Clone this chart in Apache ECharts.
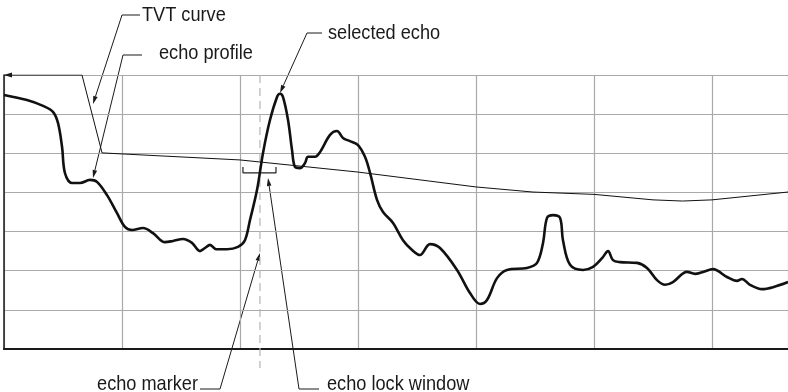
<!DOCTYPE html>
<html><head><meta charset="utf-8">
<script src="https://cdn.jsdelivr.net/npm/echarts@6/dist/echarts.min.js"></script>
<style>html,body{margin:0;padding:0;background:#fff}#c{width:788px;height:392px}</style>
</head><body><div id="c"></div>
<script>
// Echo profile (distance, level)
const echoX = [0, 1.95, 3.31, 4.15, 4.58, 4.92, 5.17, 5.76, 6.44, 7.29, 7.88, 8.73, 9.58, 10.25, 10.85, 11.78, 12.63, 13.64, 14.32, 15.17, 15.93, 16.61, 17.03, 17.46, 17.97, 18.90, 19.83, 20.42, 20.85, 21.44, 21.95, 22.54, 23.14, 23.39, 23.64, 24.07, 24.41, 24.66, 25.08, 25.51, 25.76, 26.36, 26.78, 27.63, 28.22, 28.73, 29.32, 30.0, 30.59, 31.02, 31.61, 32.12, 32.97, 33.81, 34.58, 35.25, 36.10, 36.95, 38.39, 39.49, 40.34, 40.93, 41.78, 42.63, 44.32, 45.17, 45.68, 46.02, 46.53, 47.12, 47.37, 47.97, 49.07, 49.92, 50.68, 51.19, 51.61, 52.20, 53.64, 54.49, 55.34, 56.02, 56.69, 57.88, 58.56, 59.24, 60.08, 61.27, 62.12, 62.54, 63.22, 64.24, 65.17, 66.44];
const echoY = [64.9, 63.6, 62.1, 60.6, 57.7, 51.6, 44.9, 42.4, 42.4, 43.2, 42.7, 39.3, 34.7, 31.2, 30.4, 30.9, 29.6, 27.3, 27.6, 28.1, 27.1, 25.0, 25.8, 26.6, 25.5, 25.5, 26.1, 27.8, 33.0, 40.6, 50.1, 58.5, 64.4, 65.2, 64.4, 58.5, 50.8, 46.5, 46.2, 47.5, 49.1, 49.1, 50.3, 54.7, 55.7, 53.9, 53.1, 52.1, 49.1, 45.0, 38.1, 35.0, 32.2, 27.8, 25.3, 24.0, 26.8, 25.8, 20.2, 14.3, 11.5, 12.5, 18.1, 20.2, 20.7, 22.0, 27.1, 33.5, 34.2, 33.5, 27.8, 21.5, 20.2, 21.0, 23.2, 25.0, 22.7, 22.2, 22.0, 20.7, 17.6, 16.4, 17.1, 19.7, 19.2, 19.7, 20.4, 18.4, 17.4, 17.9, 16.4, 15.3, 15.8, 17.1];
// TVT curve
const tvtX = [0, 6.61, 8.31, 20.0, 30.0, 40.0, 44.83, 50.0, 55.0, 57.5, 60.0, 66.44];
const tvtY = [70, 70, 50.1, 48.3, 45.2, 41.4, 40.1, 39.5, 38.1, 37.8, 38.1, 40.1];
// echo marker position and echo lock window
const markerX = 21.69;
const markerY = [70, -4.85];
const lockX = [20.25, 20.25, 23.05, 23.05];
const lockY = [46.5, 45.0, 45.0, 46.5];
// axis layout values
const xMax = 66.44, yMax = 70, tickStep = 10;
// labels
const labels = ['TVT curve', 'echo profile', 'selected echo', 'echo marker', 'echo lock window'];

const zip = (a, b) => a.map((v, i) => [v, b[i]]);
const FONT = '21px "Liberation Sans", Arial, sans-serif';
const INK = '#1a1a1a';

function leader(hx1, hx2, hy, tx, ty) {
  const dx = tx - hx1, dy = ty - hy, L = Math.hypot(dx, dy);
  const ux = dx / L, uy = dy / L, al = 8, aw = 2.3;
  const bx = tx - ux * al, by = ty - uy * al;
  return [
    { type: 'line', shape: { x1: hx1, y1: hy, x2: hx2, y2: hy }, style: { stroke: INK, lineWidth: 1 }, silent: true },
    { type: 'line', shape: { x1: hx1, y1: hy, x2: bx, y2: by }, style: { stroke: INK, lineWidth: 1 }, silent: true },
    { type: 'polygon', shape: { points: [[tx, ty], [bx - uy * aw, by + ux * aw], [bx + uy * aw, by - ux * aw]] }, style: { fill: INK }, silent: true }
  ];
}
function label(text, x, y, align) {
  return { type: 'text', x: x, y: y, scaleX: 0.865, silent: true,
    style: { text: text, font: FONT, fill: INK, align: align || 'left', verticalAlign: 'middle' } };
}

const chart = echarts.init(document.getElementById('c'), null, { renderer: 'canvas' });
chart.setOption({
  animation: false,
  backgroundColor: '#fff',
  grid: { left: 4, right: 0, top: 75, bottom: 43, containLabel: false },
  xAxis: {
    type: 'value', min: 0, max: xMax, interval: tickStep,
    axisLine: { show: true, onZero: false, lineStyle: { color: '#1a1a1a', width: 2.2 } },
    axisTick: { show: false }, axisLabel: { show: false },
    splitLine: { show: true, lineStyle: { color: '#a9a9a9', width: 1.2 } }
  },
  yAxis: {
    type: 'value', min: 0, max: yMax, interval: tickStep,
    axisLine: { show: true, onZero: false, lineStyle: { color: '#1a1a1a', width: 1.5 } },
    axisTick: { show: false }, axisLabel: { show: false },
    splitLine: { show: true, lineStyle: { color: '#a9a9a9', width: 1.2 } }
  },
  series: [
    { type: 'line', name: 'echo marker', data: markerY.map(v => [markerX, v]), clip: false, symbol: 'none',
      lineStyle: { color: '#b5b5b5', width: 1.2, type: [8, 5] }, z: 1 },
    { type: 'line', name: 'TVT curve', data: zip(tvtX, tvtY), symbol: 'none', smooth: false,
      lineStyle: { color: '#111', width: 1 }, z: 3 },
    { type: 'line', name: 'echo lock window', data: zip(lockX, lockY), symbol: 'none',
      lineStyle: { color: '#222', width: 1.2 }, z: 3 },
    { type: 'line', name: 'echo profile', data: zip(echoX, echoY), symbol: 'none', smooth: 0.35,
      lineStyle: { color: '#111', width: 2.6 }, z: 4 }
  ],
  graphic: [
    { type: 'polygon', shape: { points: [[4, 75], [12, 72.6], [12, 77.4]] }, style: { fill: INK }, silent: true, z: 10 },
    ...leader(122, 140, 15, 93, 104),
    ...leader(123, 142, 55, 93, 178),
    ...leader(307, 322, 33, 280, 93),
    ...leader(220, 200, 389, 260, 253),
    ...leader(299, 319, 389, 268, 178),
    label(labels[0], 142, 15),
    label(labels[1], 159, 53),
    label(labels[2], 328, 33),
    label(labels[3], 198, 384, 'right'),
    label(labels[4], 327, 384)
  ]
});
</script></body></html>
